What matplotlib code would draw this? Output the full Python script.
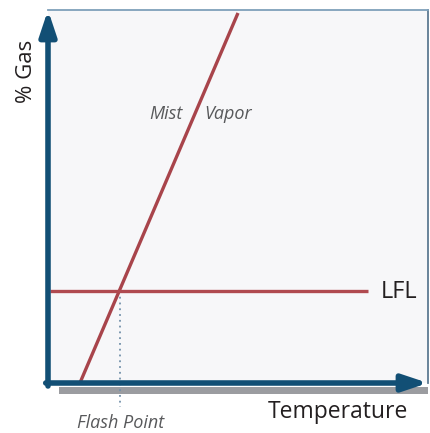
import matplotlib
matplotlib.use("Agg")
import matplotlib.pyplot as plt
from matplotlib.patches import Rectangle

plt.rcParams['font.family'] = ['Open Sans', 'DejaVu Sans']

# Data (abstract units: temperature 0-100, % gas 0-100)
vapor_line_x = [8.4, 50.0]
vapor_line_y = [0.0, 99.2]
lfl_x = [0.5, 84.2]
lfl_y = [24.7, 24.7]
flash_point_x = 18.9
flash_point_y = [24.7, -6.4]

fig = plt.figure(figsize=(4.30, 4.33), dpi=100)
ax = fig.add_axes([48/430, (433-383)/433, 380/430, 373/433])
ax.set_xlim(0, 100)
ax.set_ylim(0, 100)
ax.set_facecolor('#f7f7f9')
ax.set_xticks([]); ax.set_yticks([])
for s in ['left', 'bottom']:
    ax.spines[s].set_visible(False)
ax.spines['top'].set_color('#7fa0ba')
ax.spines['top'].set_linewidth(1.3)
ax.spines['right'].set_color('#5d7a92')
ax.spines['right'].set_linewidth(1.3)

# shadow under x axis
ax.add_patch(Rectangle((11/380, -0.030), 1 - 11/380, 0.020, transform=ax.transAxes,
                       facecolor='#9b9ca0', edgecolor='none', clip_on=False, zorder=1))

axis_col = '#124f75'
# y axis arrow
ax.annotate('', xy=(0, 1.0), xytext=(0, -0.008), xycoords='axes fraction',
            arrowprops=dict(arrowstyle='-|>,head_length=1.5,head_width=0.5', lw=4.0,
                            color=axis_col, shrinkA=0, shrinkB=0), annotation_clip=False, zorder=5)
# x axis arrow
ax.annotate('', xy=(1.0, 0), xytext=(-0.006, 0), xycoords='axes fraction',
            arrowprops=dict(arrowstyle='-|>,head_length=1.5,head_width=0.5', lw=4.0,
                            color=axis_col, shrinkA=0, shrinkB=0), annotation_clip=False, zorder=5)

# lines
ax.plot(vapor_line_x, vapor_line_y, color='#a8444b', lw=2.4, solid_capstyle='butt', zorder=3)
ax.plot(lfl_x, lfl_y, color='#b04a50', lw=2.4, solid_capstyle='butt', zorder=3)
ax.plot([flash_point_x, flash_point_x], flash_point_y, color='#7391aa', lw=1.3,
        linestyle=(0, (1, 2.2)), clip_on=False, zorder=2)

# texts
ax.text(-0.056, 0.835, '% Gas', transform=ax.transAxes, rotation=90, fontsize=16,
        color='#231f20', ha='center', va='center')
ax.text(0.947, -0.079, 'Temperature', transform=ax.transAxes, fontsize=16.5,
        color='#231f20', ha='right', va='center')
ax.text(87.5, 24.5, 'LFL', fontsize=17, color='#231f20', ha='left', va='center')
ax.text(0.355, 0.72, 'Mist', transform=ax.transAxes, fontsize=13, style='italic',
        color='#58595b', ha='right', va='center')
ax.text(0.412, 0.72, 'Vapor', transform=ax.transAxes, fontsize=13, style='italic',
        color='#58595b', ha='left', va='center')
ax.text(flash_point_x + 0.3, -10.8, 'Flash Point', fontsize=13, style='italic',
        color='#58595b', ha='center', va='center')

fig.savefig('out.png', dpi=100)
